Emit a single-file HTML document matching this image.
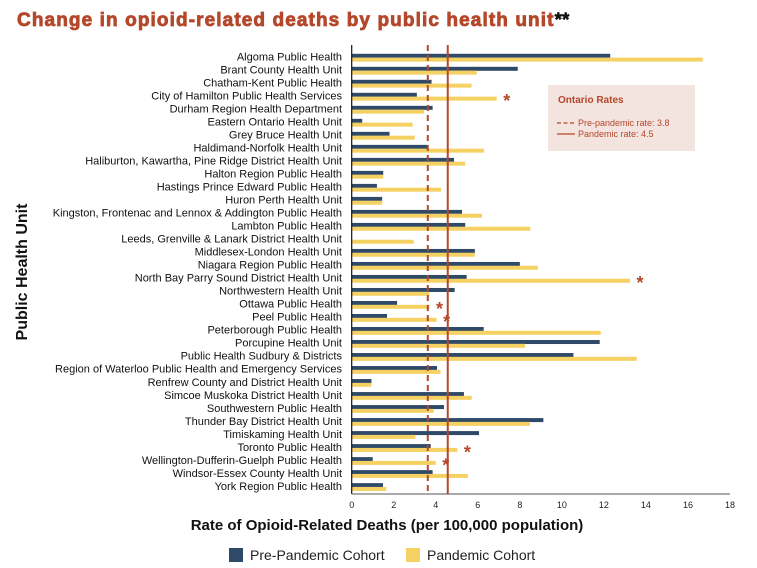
<!DOCTYPE html>
<html><head><meta charset="utf-8"><style>
body{margin:0;background:#fff;width:757px;height:568px;overflow:hidden;font-family:"Liberation Sans",Arial,sans-serif}
#title{position:absolute;left:17px;top:10px;font-size:19px;font-weight:bold;color:#b5472a;-webkit-text-stroke:0.8px #b5472a;letter-spacing:1.1px;white-space:nowrap}
#title span{color:#111;-webkit-text-stroke:0.5px #111;letter-spacing:0}
</style></head><body>
<div id="title">Change in opioid-related deaths by public health unit<span>**</span></div>
<svg id="chart" width="757" height="568" style="position:absolute;left:0;top:0"></svg>
<script>
const categories=["Algoma Public Health","Brant County Health Unit","Chatham-Kent Public Health","City of Hamilton Public Health Services","Durham Region Health Department","Eastern Ontario Health Unit","Grey Bruce Health Unit","Haldimand-Norfolk Health Unit","Haliburton, Kawartha, Pine Ridge District Health Unit","Halton Region Public Health","Hastings Prince Edward Public Health","Huron Perth Health Unit","Kingston, Frontenac and Lennox & Addington Public Health","Lambton Public Health","Leeds, Grenville & Lanark District Health Unit","Middlesex-London Health Unit","Niagara Region Public Health","North Bay Parry Sound District Health Unit","Northwestern Health Unit","Ottawa Public Health","Peel Public Health","Peterborough Public Health","Porcupine Health Unit","Public Health Sudbury & Districts","Region of Waterloo Public Health and Emergency Services","Renfrew County and District Health Unit","Simcoe Muskoka District Health Unit","Southwestern Public Health","Thunder Bay District Health Unit","Timiskaming Health Unit","Toronto Public Health","Wellington-Dufferin-Guelph Public Health","Windsor-Essex County Health Unit","York Region Public Health"];
const prePandemic=[12.3,7.9,3.8,3.1,3.85,0.5,1.8,3.6,4.87,1.5,1.2,1.45,5.25,5.4,0,5.86,8.0,5.47,4.9,2.16,1.68,6.28,11.8,10.55,4.06,0.94,5.34,4.39,9.12,6.06,3.76,1.0,3.85,1.49];
const pandemic=[16.7,5.95,5.7,6.9,3.45,2.9,3.0,6.3,5.4,1.5,4.25,1.45,6.2,8.5,2.95,5.86,8.86,13.24,3.7,3.7,4.04,11.85,8.25,13.56,4.23,0.94,5.71,3.9,8.48,3.03,5.03,4.0,5.53,1.65];
const significant=[0,0,0,1,0,0,0,0,0,0,0,0,0,0,0,0,0,1,0,1,1,0,0,0,0,0,0,0,0,0,1,1,0,0];
const xTicks=[0,2,4,6,8,10,12,14,16,18];
const preRate=3.62, pandRate=4.57;
const NS="http://www.w3.org/2000/svg";
const svg=document.getElementById('chart');
const x0=351.7,x1=730,xmax=18;
const xs=v=>x0+v/xmax*(x1-x0);
const ys=i=>56+i*13.01;
function el(t,a,p){const e=document.createElementNS(NS,t);for(const k in a)e.setAttribute(k,a[k]);(p||svg).appendChild(e);return e;}
categories.forEach((c,i)=>{
  const y=ys(i);
  const t=el('text',{x:342,y:y+4.5,'text-anchor':'end','font-size':'11',fill:'#111'});
  t.textContent=c;
  
  
  const b1=el('rect',{x:x0,y:y-2.2,width:Math.max(0,xs(prePandemic[i])-x0),height:4,fill:'#2e4a68'});
  
  
  const b2=el('rect',{x:x0,y:y+1.6,width:Math.max(0,xs(pandemic[i])-x0),height:4,fill:'#f5d163'});
  
  
  if(significant[i]){
    const s=el('text',{x:xs(pandemic[i])+10,y:y+12,'text-anchor':'middle','font-size':'18','font-weight':'bold',fill:'#b5472a'});
    s.textContent='*';
    
    
  }
});
const l1=el('line',{x1:xs(preRate),x2:xs(preRate),y1:45,y2:494,stroke:'#b5472a','stroke-width':2,'stroke-dasharray':'6,4'});


const l2=el('line',{x1:xs(pandRate),x2:xs(pandRate),y1:45,y2:494,stroke:'#b5472a','stroke-width':2});


const ya=el('line',{x1:x0,x2:x0,y1:45,y2:494,stroke:'#111','stroke-width':1.2});


const xa=el('line',{x1:x0,x2:x1,y1:494,y2:494,stroke:'#555','stroke-width':1});


xTicks.forEach(v=>{
  const t=el('text',{x:xs(v),y:508,'text-anchor':'middle','font-size':'9',fill:'#222'});
  t.textContent=v;
  
  
});
const g=el('g',{});


el('rect',{x:548,y:85,width:147,height:66,fill:'#f3e4e0'},g);
const tt=el('text',{x:558,y:103,'font-size':'10','font-weight':'bold',fill:'#b5472a'},g);tt.textContent='Ontario Rates';
el('line',{x1:557,x2:575,y1:123,y2:123,stroke:'#b5472a','stroke-width':1.3,'stroke-dasharray':'4,2.5'},g);
const t1=el('text',{x:578,y:126,'font-size':'9',fill:'#b5472a'},g);t1.textContent='Pre-pandemic rate: 3.8';
el('line',{x1:557,x2:575,y1:134,y2:134,stroke:'#b5472a','stroke-width':1.3},g);
const t2=el('text',{x:578,y:137,'font-size':'9',fill:'#b5472a'},g);t2.textContent='Pandemic rate: 4.5';
const xt=el('text',{x:387,y:530,'text-anchor':'middle','font-size':'15','font-weight':'bold',fill:'#111'});
xt.textContent='Rate of Opioid-Related Deaths (per 100,000 population)';


const yt=el('text',{x:0,y:0,'text-anchor':'middle','font-size':'16','font-weight':'bold',fill:'#111',transform:'translate(27,272) rotate(-90)'});
yt.textContent='Public Health Unit';


const lg=el('g',{});


el('rect',{x:229,y:548,width:14,height:14,fill:'#2e4a68'},lg);
const lt1=el('text',{x:250,y:560,'font-size':'14',fill:'#222'},lg);lt1.textContent='Pre-Pandemic Cohort';
el('rect',{x:406,y:548,width:14,height:14,fill:'#f5d163'},lg);
const lt2=el('text',{x:427,y:560,'font-size':'14',fill:'#222'},lg);lt2.textContent='Pandemic Cohort';
</script>
</body></html>
